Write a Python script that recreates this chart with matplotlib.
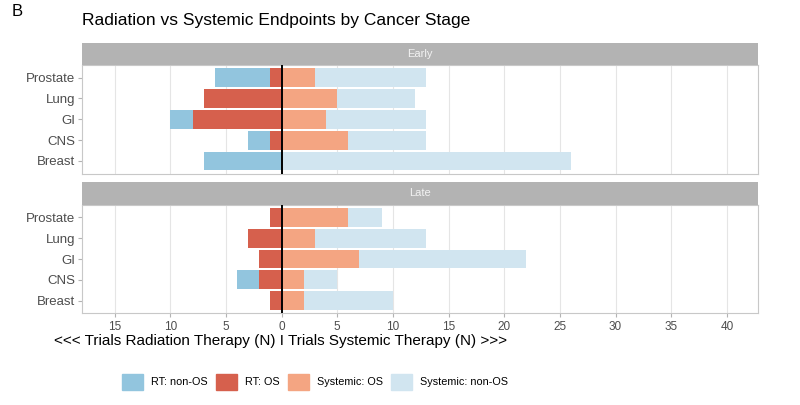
import matplotlib
matplotlib.use("Agg")
import matplotlib.pyplot as plt
from matplotlib.patches import Patch
import numpy as np

plt.rcParams['font.family'] = ['Liberation Sans', 'DejaVu Sans']

cancers = ['Prostate', 'Lung', 'GI', 'CNS', 'Breast']
stages = ['Early', 'Late']

# counts per cancer (same order as cancers)
rt_os = {'Early': [1, 7, 8, 1, 0], 'Late': [1, 3, 2, 2, 1]}
rt_nonos = {'Early': [5, 0, 2, 2, 7], 'Late': [0, 0, 0, 2, 0]}
sys_os = {'Early': [3, 5, 4, 6, 0], 'Late': [6, 3, 7, 2, 2]}
sys_nonos = {'Early': [10, 7, 9, 7, 26], 'Late': [3, 10, 15, 3, 8]}

col_rt_nonos = '#92C5DE'
col_rt_os = '#D6604D'
col_sys_os = '#F4A582'
col_sys_nonos = '#D1E5F0'

W, H = 800, 405
fig = plt.figure(figsize=(W / 100, H / 100), dpi=100)


def box(x0, y0, x1, y1):
    # pixel box (top-left origin) -> figure fraction
    return [x0 / W, 1 - y1 / H, (x1 - x0) / W, (y1 - y0) / H]


panels = {'Early': (42.5, 65, 173.5), 'Late': (181.5, 205, 313)}
xl, xr = 82.3, 758
xmin, xmax = -17.9, 42.8

for i, st in enumerate(stages):
    s_top, p_top, p_bot = panels[st]
    ax = fig.add_axes(box(xl, p_top, xr, p_bot))
    y = np.arange(len(cancers))[::-1] + 1
    a = np.array(rt_os[st])
    b = np.array(rt_nonos[st])
    c = np.array(sys_os[st])
    d = np.array(sys_nonos[st])
    ax.barh(y, -a, height=0.9, color=col_rt_os, zorder=2)
    ax.barh(y, -b, left=-a, height=0.9, color=col_rt_nonos, zorder=2)
    ax.barh(y, c, height=0.9, color=col_sys_os, zorder=2)
    ax.barh(y, d, left=c, height=0.9, color=col_sys_nonos, zorder=2)
    ax.axvline(0, color='black', lw=1.4, zorder=3)
    ax.set_xlim(xmin, xmax)
    ax.set_ylim(0.4, 5.6)
    ax.set_yticks(y)
    ax.set_yticklabels(cancers, fontsize=9.5, color='#4D4D4D')
    ticks = np.arange(-15, 45, 5)
    ax.set_xticks(ticks)
    ax.grid(axis='x', color='#E5E5E5', lw=0.8, zorder=0)
    ax.tick_params(axis='y', length=3, color='#B3B3B3', pad=2)
    ax.tick_params(axis='x', length=3, color='#B3B3B3', pad=3)
    for sp in ax.spines.values():
        sp.set_color('#C8C8C8')
        sp.set_linewidth(0.8)
    if st == 'Late':
        ax.set_xticklabels([str(abs(t)) for t in ticks], fontsize=8.5, color='#4D4D4D')
    else:
        ax.set_xticklabels([])
        ax.tick_params(axis='x', length=0)

    sax = fig.add_axes(box(xl, s_top, xr, p_top))
    sax.set_facecolor('#B3B3B3')
    sax.set_xticks([])
    sax.set_yticks([])
    for sp in sax.spines.values():
        sp.set_visible(False)
    sax.text(0.5, 0.5, st, color='#F2F2F2', fontsize=8, ha='center', va='center',
             transform=sax.transAxes)

fig.text(12 / W, 1 - 12 / H, 'B', fontsize=12, ha='left', va='center')
fig.text(xl / W, 1 - 21 / H, 'Radiation vs Systemic Endpoints by Cancer Stage',
         fontsize=12.5, ha='left', va='center')
fig.text(281 / W, 1 - 341 / H,
         '<<< Trials Radiation Therapy (N) I Trials Systemic Therapy (N) >>>',
         fontsize=11, ha='center', va='center')

handles = [Patch(color=col_rt_nonos, label='RT: non-OS'),
           Patch(color=col_rt_os, label='RT: OS'),
           Patch(color=col_sys_os, label='Systemic: OS'),
           Patch(color=col_sys_nonos, label='Systemic: non-OS')]
fig.legend(handles=handles, loc='center left', bbox_to_anchor=(112 / W, 1 - 382 / H),
           ncol=4, frameon=False, fontsize=7.8, handlelength=1.95, handleheight=1.95,
           columnspacing=0.75, handletextpad=0.75)

fig.savefig('out.png', dpi=100)
